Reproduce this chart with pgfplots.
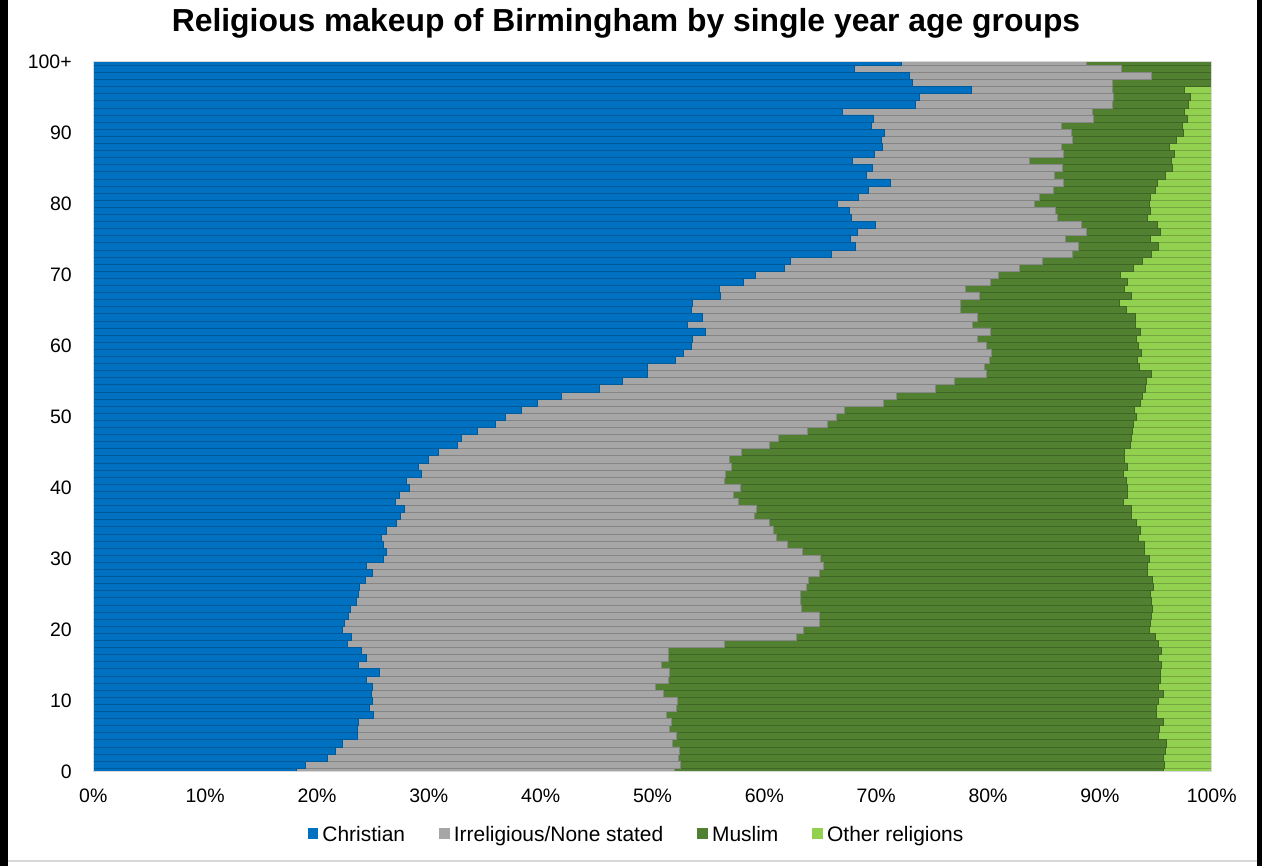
\documentclass[border=0pt]{standalone}
\usepackage{fontspec}
\setmainfont{Liberation Sans}
\usepackage{pgfplots}
\usepackage{pgfplotstable}
\pgfplotsset{compat=1.18}
\definecolor{cchr}{RGB}{0,112,192}
\definecolor{cirr}{RGB}{166,166,166}
\definecolor{cmus}{RGB}{80,128,48}
\definecolor{coth}{RGB}{146,208,80}
\pgfplotsset{sqlegend/.style={legend image code/.code={\fill[##1] (0pt,-3pt) rectangle (8pt,5pt);}}}
% cumulative right-hand ends of each segment (percent)
\pgfplotstableread{
age chr irr mus oth
0 18.15 51.99 95.67 100
1 18.93 52.46 95.76 100
2 20.92 52.34 95.67 100
3 21.64 52.40 95.85 100
4 22.30 51.81 95.91 100
5 23.61 52.16 95.26 100
6 23.61 51.48 95.32 100
7 23.67 51.72 95.67 100
8 25.01 51.27 95.05 100
9 24.71 52.13 95.05 100
10 24.98 52.22 95.20 100
11 24.83 51.00 95.65 100
12 24.95 50.22 95.22 100
13 24.45 51.41 95.38 100
14 25.55 51.48 95.41 100
15 23.73 50.82 95.47 100
16 24.38 51.45 95.22 100
17 23.96 51.39 95.47 100
18 22.68 56.46 95.20 100
19 23.10 62.89 94.98 100
20 22.24 63.47 94.42 100
21 22.42 64.91 94.48 100
22 22.80 64.91 94.60 100
23 22.95 63.30 94.69 100
24 23.49 63.25 94.64 100
25 23.69 63.25 94.48 100
26 23.78 63.73 94.78 100
27 24.36 63.93 94.69 100
28 24.98 64.89 94.22 100
29 24.38 65.24 94.22 100
30 25.90 65.04 94.42 100
31 26.23 63.43 93.98 100
32 25.93 62.09 93.95 100
33 25.72 61.07 93.41 100
34 26.17 60.84 93.59 100
35 27.13 60.44 93.23 100
36 27.49 59.08 92.81 100
37 27.78 59.25 92.81 100
38 26.98 57.66 92.10 100
39 27.36 57.27 92.45 100
40 28.26 57.82 92.45 100
41 28.02 56.38 92.34 100
42 29.36 56.47 92.10 100
43 29.06 57.08 92.45 100
44 29.95 56.86 92.19 100
45 30.88 57.96 92.19 100
46 32.52 60.44 92.74 100
47 32.94 61.25 92.85 100
48 34.37 63.88 92.90 100
49 35.94 65.67 92.99 100
50 36.81 66.47 93.23 100
51 38.30 67.15 93.08 100
52 39.70 70.64 93.59 100
53 41.88 71.84 93.80 100
54 45.24 75.29 94.04 100
55 47.30 76.98 94.19 100
56 49.53 79.88 94.64 100
57 49.57 79.64 93.53 100
58 52.01 80.09 93.35 100
59 52.75 80.27 93.74 100
60 53.44 79.82 93.44 100
61 53.56 79.08 93.23 100
62 54.69 80.24 93.59 100
63 53.08 78.63 93.14 100
64 54.43 79.08 93.21 100
65 53.51 77.56 92.40 100
66 53.59 77.49 91.74 100
67 56.10 79.22 92.78 100
68 55.95 77.97 92.19 100
69 58.12 80.18 92.49 100
70 59.17 80.96 91.86 100
71 61.79 82.77 92.99 100
72 62.29 84.89 93.80 100
73 65.96 87.51 94.64 100
74 68.11 88.05 95.20 100
75 67.66 86.88 94.48 100
76 68.35 88.82 95.38 100
77 69.96 88.38 95.11 100
78 67.75 86.17 94.28 100
79 67.57 86.05 94.48 100
80 66.56 84.11 94.39 100
81 68.37 84.56 94.55 100
82 69.27 85.81 94.99 100
83 71.24 86.70 95.17 100
84 69.15 85.90 95.82 100
85 69.69 86.68 96.51 100
86 67.90 83.66 96.36 100
87 69.81 86.70 96.63 100
88 70.52 86.53 96.18 100
89 70.49 87.57 96.87 100
90 70.70 87.48 97.43 100
91 69.60 86.59 97.34 100
92 69.72 89.39 97.79 100
93 67.01 89.30 97.52 100
94 73.47 91.09 97.88 100
95 73.83 91.17 98.12 100
96 78.48 91.09 97.52 100
97 73.20 91.09 100 100
98 72.94 94.57 100 100
99 68.02 91.95 100 100
100 72.28 88.82 100 100
}\data
\begin{document}
\begin{tikzpicture}[x=0.75pt,y=0.75pt]
\fill[white] (0,0) rectangle (1262,866);
\path[use as bounding box] (0,0) rectangle (1262,866);
\fill[black] (0,0) rectangle (8,866);
\fill[black] (1257,0) rectangle (1262,866);
\draw[black!15,line width=1.5pt] (8,5) -- (1257,5);
\node[anchor=base, font=\bfseries\fontsize{23.9}{28}\selectfont] at (626,834.5) {Religious makeup of Birmingham by single year age groups};
\begin{axis}[
  at={(69.975pt,70.725pt)}, anchor=south west,
  width=838.8pt, height=532.5pt, scale only axis,
  bar width=1, bar shift=0pt,
  xmin=0, xmax=100, ymin=0, ymax=100,
  xtick={0,10,...,100},
  xticklabels={0\%,10\%,20\%,30\%,40\%,50\%,60\%,70\%,80\%,90\%,100\%},
  ytick={0,10,...,100},
  yticklabels={0,10,20,30,40,50,60,70,80,90,100+},
  major tick length=0pt,
  /pgf/number format/assume math mode=true,
  tick label style={font=\fontsize{14.6}{17}\selectfont, inner sep=0pt},
  xticklabel style={anchor=north, yshift=-12.4pt},
  yticklabel style={anchor=east, xshift=-16pt},
  axis line style={draw=black!15, line width=0.75pt},
  axis on top,
  legend columns=4,
  legend style={at={(0.486,0)}, anchor=north, yshift=-38.5pt, draw=none, fill=none, inner sep=0pt,
    font=\fontsize{15.7}{18}\selectfont,
    /tikz/every odd column/.append style={column sep=1.1pt},
    /tikz/every even column/.append style={column sep=23.5pt}},
]
\addplot[xbar, forget plot, fill=coth, draw=coth!80!black, line width=0.5pt] table[x=oth, y=age]{\data};
\addplot[xbar, forget plot, fill=cmus, draw=cmus!80!black, line width=0.5pt] table[x=mus, y=age]{\data};
\addplot[xbar, forget plot, fill=cirr, draw=cirr!80!black, line width=0.5pt] table[x=irr, y=age]{\data};
\addplot[xbar, forget plot, fill=cchr, draw=cchr!80!black, line width=0.5pt] table[x=chr, y=age]{\data};
\addlegendimage{sqlegend, fill=cchr, draw=none}
\addlegendentry{Christian}
\addlegendimage{sqlegend, fill=cirr, draw=none}
\addlegendentry{Irreligious/None stated}
\addlegendimage{sqlegend, fill=cmus, draw=none}
\addlegendentry{Muslim}
\addlegendimage{sqlegend, fill=coth, draw=none}
\addlegendentry{Other religions}
\end{axis}
\end{tikzpicture}
\end{document}
